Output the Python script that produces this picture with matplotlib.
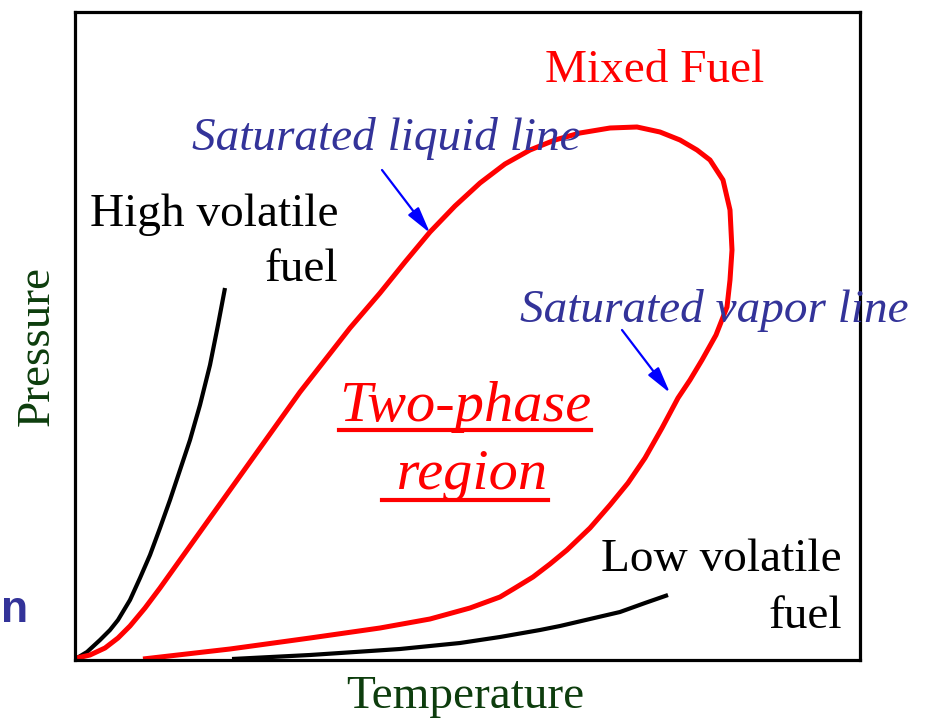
import matplotlib
matplotlib.use("Agg")
import matplotlib.pyplot as plt
from matplotlib.lines import Line2D

W, H = 934, 720
AX_L, AX_R, AX_T, AX_B = 75, 860, 12, 660

# Data (temperature, pressure in arbitrary units)
high_T = [2, 12, 25, 35, 43, 55, 65, 75, 85, 95, 105, 115, 125, 135, 143, 150]
high_P = [2, 8, 20, 30, 40, 60, 82, 105, 132, 160, 190, 220, 255, 295, 335, 372]

mixed_T = [2, 15, 30, 43, 55, 70, 85, 105, 125, 150, 175, 200, 225, 250, 275,
           305, 330, 355, 380, 405, 430, 455, 480, 505, 535, 562, 585, 605,
           622, 635, 648, 655, 657, 655, 652, 641, 627, 615, 603, 587, 570,
           553, 535, 515, 492, 475, 458, 440, 425, 395, 355, 305, 235, 155, 68]
mixed_P = [2, 5, 12, 22, 34, 52, 72, 100, 128, 163, 198, 233, 268, 300, 332,
           367, 398, 428, 454, 477, 496, 510, 520, 527, 532, 533, 528, 520,
           510, 500, 480, 450, 410, 380, 353, 325, 300, 280, 262, 232, 202,
           177, 155, 132, 110, 96, 83, 72, 63, 52, 41, 32, 22, 11, 1]

low_T = [157, 235, 325, 385, 425, 465, 485, 515, 545, 570, 593]
low_P = [1, 5, 11, 17, 23, 30, 34, 41, 48, 57, 65]

fig = plt.figure(figsize=(W / 100, H / 100), dpi=100)
ax = fig.add_axes([AX_L / W, 1 - AX_B / H, (AX_R - AX_L) / W, (AX_B - AX_T) / H])
ax.set_xlim(0, AX_R - AX_L)
ax.set_ylim(0, AX_B - AX_T)
ax.set_xticks([])
ax.set_yticks([])
for s in ax.spines.values():
    s.set_linewidth(2.3)
    s.set_color("black")

ax.plot(high_T, high_P, color="black", lw=3.0, solid_capstyle="butt",
        solid_joinstyle="round")
ax.plot(low_T, low_P, color="black", lw=3.0, solid_capstyle="butt",
        solid_joinstyle="round")
ax.plot(mixed_T, mixed_P, color="#ff0000", lw=3.6, solid_capstyle="butt",
        solid_joinstyle="round")

serif = ["Liberation Serif", "DejaVu Serif"]
BLUE = "#333399"
GREEN = "#0d3d0d"


def ftext(px, py, s, **kw):
    return fig.text(px / W, 1 - py / H, s, va="baseline", family=serif, **kw)


ftext(655, 82, "Mixed Fuel", color="#ff0000", fontsize=34, ha="center")
ftext(192, 150, "Saturated liquid line", color=BLUE, fontsize=34, style="italic")
ftext(520, 322, "Saturated vapor line", color=BLUE, fontsize=34, style="italic")
ftext(338, 226, "High volatile", color="black", fontsize=34, ha="right")
ftext(338, 281, "fuel", color="black", fontsize=34, ha="right")
ftext(842, 571, "Low volatile", color="black", fontsize=34, ha="right")
ftext(842, 628, "fuel", color="black", fontsize=34, ha="right")
t1 = ftext(465, 421, "Two-phase", color="#ff0000", fontsize=42, style="italic", ha="center")
t2 = ftext(465, 489, " region", color="#ff0000", fontsize=42, style="italic", ha="center")
ftext(465, 708, "Temperature", color=GREEN, fontsize=34, ha="center")
fig.text(37 / W, 1 - 346 / H, "Pressure", color=GREEN, fontsize=34, family=serif,
         rotation=90, ha="center", va="center", rotation_mode="anchor")
fig.text(28 / W, 1 - 622 / H, "n", color=BLUE, fontsize=32, weight="bold",
         family=["Liberation Sans", "DejaVu Sans"], ha="right", va="baseline")

# underline the two-phase label
fig.canvas.draw()
r = fig.canvas.get_renderer()
for t, uy in ((t1, 430), (t2, 500)):
    bb = t.get_window_extent(r)
    fig.add_artist(Line2D([bb.x0 / W, bb.x1 / W], [1 - uy / H, 1 - uy / H],
                          transform=fig.transFigure, color="#ff0000", lw=3.0))


def px2data(px, py):
    return (px - AX_L, AX_B - py)


arrow = dict(arrowstyle="-|>,head_length=1.6,head_width=0.4", color="#0000ff",
             lw=1.6, shrinkA=0, shrinkB=0)
ax.annotate("", xy=px2data(430, 233), xytext=px2data(382, 170), arrowprops=arrow)
ax.annotate("", xy=px2data(670, 393), xytext=px2data(622, 330), arrowprops=arrow)

fig.savefig("out.png", dpi=100)
